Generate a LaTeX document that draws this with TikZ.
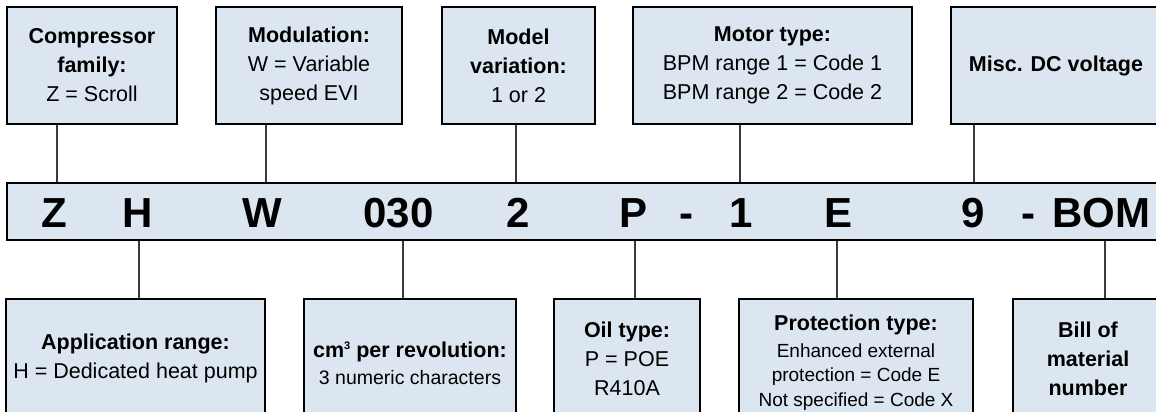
\documentclass[tikz,border=0pt]{standalone}
\usepackage{fontspec}
\setmainfont{Liberation Sans}
\definecolor{boxfill}{HTML}{DCE6F1}
\definecolor{linkcol}{HTML}{3A3A3A}
\tikzset{
  infobox/.style={draw=black, line width=2.4pt, fill=boxfill, inner sep=0pt, align=center,
    font=\fontsize{21.5}{29}\selectfont},
  codebar/.style={draw=black, line width=2.2pt, fill=boxfill, inner sep=0pt},
  codechar/.style={anchor=base, inner sep=0pt, font=\fontsize{42}{42}\selectfont\bfseries},
  link/.style={draw=linkcol, line width=1.4pt},
}
\begin{document}
\begin{tikzpicture}[x=1pt,y=-1pt]
\useasboundingbox (0,0) rectangle (1156,412);
\clip (0,0) rectangle (1156,412);

% top boxes
\node[infobox, minimum width=170pt, minimum height=117pt] (t1) at (92,65.5)
  {\textbf{Compressor}\\\textbf{family:}\\Z = Scroll};
\node[infobox, minimum width=186pt, minimum height=117pt] (t2) at (309,65.5)
  {\textbf{Modulation:}\\W = Variable\\speed EVI};
\node[infobox, minimum width=153pt, minimum height=117pt] (t3) at (518.5,65.5)
  {\textbf{Model}\\\textbf{variation:}\\1 or 2};
\node[infobox, minimum width=279pt, minimum height=117pt] (t4) at (772.5,65.5)
  {\textbf{Motor type:}\\BPM range 1 = Code 1\\BPM range 2 = Code 2};
\node[infobox, minimum width=210pt, minimum height=117pt] (t5) at (1056,65.5)
  {\textbf{Misc. DC voltage}};

% code bar
\node[codebar, minimum width=1153pt, minimum height=57pt] (bar) at (583.5,211.5) {};
\node[codechar] (cZ) at (54,227) {Z};
\node[codechar] (cH) at (137.5,227) {H};
\node[codechar] (cW) at (262,227) {W};
\node[codechar] (cD) at (398.5,227) {030};
\node[codechar] (cV) at (518,227) {2};
\node[codechar] (cP) at (633,227) {P};
\node[codechar] (cDa) at (686,227) {-};
\node[codechar] (cM) at (741,227) {1};
\node[codechar] (cE) at (838,227) {E};
\node[codechar] (cN) at (973,227) {9};
\node[codechar] (cDb) at (1028.5,227) {-};
\node[codechar] (cB) at (1101.5,227) {BOM};

% bottom boxes
\node[infobox, minimum width=259pt, minimum height=119pt] (b1) at (135.5,358.5)
  {\textbf{Application range:}\\H = Dedicated heat pump};
\node[infobox, minimum width=212pt, minimum height=129pt] (b2) at (410,363.5)
  {\textbf{cm\raisebox{8pt}{\fontsize{11}{11}\selectfont 3} per revolution:}\\[-2pt]
   {\fontsize{19.5}{24}\selectfont 3 numeric characters}};
\node[infobox, minimum width=146pt, minimum height=119pt] (b3) at (627,358.5)
  {\textbf{Oil type:}\\P = POE\\R410A};
\node[infobox, minimum width=234pt, minimum height=127pt] (b4) at (856,362.5)
  {\textbf{Protection type:}\\[-2pt]
   {\fontsize{19}{24.5}\selectfont Enhanced external}\\[-4.5pt]
   {\fontsize{19}{24.5}\selectfont protection = Code E}\\[-4.5pt]
   {\fontsize{19}{24.5}\selectfont Not specified = Code X}};
\node[infobox, minimum width=150pt, minimum height=119pt] (b5) at (1088,358.5)
  {\textbf{Bill of}\\\textbf{material}\\\textbf{number}};

% connectors top
\draw[link] (t1.south -| 57,0) -- (bar.north -| 57,0);
\draw[link] (t2.south -| 266,0) -- (bar.north -| 266,0);
\draw[link] (t3.south -| 516,0) -- (bar.north -| 516,0);
\draw[link] (t4.south -| 740,0) -- (bar.north -| 740,0);
\draw[link] (t5.south -| 974,0) -- (bar.north -| 974,0);
% connectors bottom
\draw[link] (bar.south -| 139,0) -- (b1.north -| 139,0);
\draw[link] (bar.south -| 403,0) -- (b2.north -| 403,0);
\draw[link] (bar.south -| 635,0) -- (b3.north -| 635,0);
\draw[link] (bar.south -| 837,0) -- (b4.north -| 837,0);
\draw[link] (bar.south -| 1105,0) -- (b5.north -| 1105,0);
\end{tikzpicture}
\end{document}
